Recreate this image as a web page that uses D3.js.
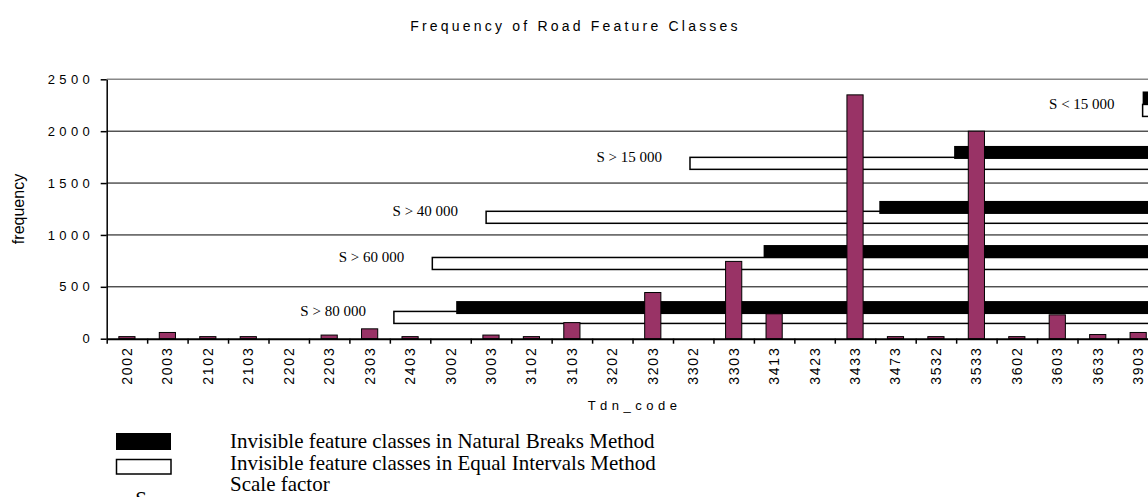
<!DOCTYPE html>
<html>
<head>
<meta charset="utf-8">
<script src="https://cdn.jsdelivr.net/npm/d3@7"></script>
<style>
  body { margin: 0; background: #fff; }
  svg { display: block; }
</style>
</head>
<body>
<svg id="chart"></svg>
<script>
// data
const codes = ["2002", "2003", "2102", "2103", "2202", "2203", "2303", "2403", "3002", "3003",
  "3102", "3103", "3202", "3203", "3302", "3303", "3413", "3423", "3433", "3473",
  "3532", "3533", "3602", "3603", "3633", "3903"];
const freq = [20, 60, 20, 20, 0, 35, 95, 20, 0, 35,
  20, 155, 0, 445, 0, 745, 240, 0, 2350, 20,
  20, 2000, 20, 230, 40, 60];
const yTicks = [0, 500, 1000, 1500, 2000, 2500];

// scale factor annotations (start in category slots, level in frequency units)
const scaleLabels = ["S > 80 000", "S > 60 000", "S > 40 000", "S > 15 000", "S < 15 000"];
const naturalStart = [8.64, 16.24, 19.10, 20.95, 25.61];
const naturalLevel = [300, 840, 1265, 1795, 2320];
const equalStart = [7.10, 8.05, 9.38, 14.42, 25.61];
const equalLevel = [205, 725, 1170, 1690, 2200];

const legendLabels = ["Invisible feature classes in Natural Breaks Method",
  "Invisible feature classes in Equal Intervals Method",
  "Scale factor"];

const width = 1148, height = 497;
const sans = "'Liberation Sans', Arial, sans-serif";
const serif = "'Liberation Serif', 'Times New Roman', serif";

const svg = d3.select("#chart").attr("width", width).attr("height", height);

const x0 = 106.7, step = 40.45;
const slot = d3.scaleLinear().domain([0, codes.length]).range([x0, x0 + codes.length * step]);
const x = d3.scaleBand().domain(codes).range(slot.range()).paddingInner(0.6).paddingOuter(0.3);
const y = d3.scaleLinear().domain([0, 2500]).range([338.7, 79.3]);

// title
svg.append("text")
    .attr("x", 575.5).attr("y", 31)
    .attr("text-anchor", "middle")
    .style("font-family", sans).style("font-size", "14px").style("letter-spacing", "3.2px")
    .text("Frequency of Road Feature Classes");

// gridlines
svg.append("g").selectAll("line")
    .data(yTicks.slice(1))
    .enter().append("line")
    .attr("x1", x0).attr("x2", width)
    .attr("y1", d => y(d)).attr("y2", d => y(d))
    .attr("stroke", d => d === 2500 ? "#888" : "#000")
    .attr("stroke-width", d => d === 2500 ? 1.6 : 1);

// equal intervals (white) bands
const bandG = svg.append("g");
bandG.selectAll(".eq")
    .data(equalStart)
    .enter().append("rect")
    .attr("class", "eq")
    .attr("x", d => slot(d))
    .attr("y", (d, i) => y(equalLevel[i]) - 6)
    .attr("width", d => width + 20 - slot(d))
    .attr("height", 12)
    .attr("fill", "#fff").attr("stroke", "#000").attr("stroke-width", 1.5);

// natural breaks (black) bands
bandG.selectAll(".nb")
    .data(naturalStart)
    .enter().append("rect")
    .attr("class", "nb")
    .attr("x", d => slot(d))
    .attr("y", (d, i) => y(naturalLevel[i]) - 6.5)
    .attr("width", d => width + 20 - slot(d))
    .attr("height", 13)
    .attr("fill", "#000");

// scale factor labels
svg.append("g").selectAll("text")
    .data(scaleLabels)
    .enter().append("text")
    .attr("x", (d, i) => slot(equalStart[i]) - 28)
    .attr("y", (d, i) => y(equalLevel[i]) - 1)
    .attr("text-anchor", "end")
    .style("font-family", serif).style("font-size", "15px")
    .text(d => d);

// bars
svg.append("g").selectAll("rect")
    .data(freq)
    .enter().append("rect")
    .attr("x", (d, i) => x(codes[i]))
    .attr("y", d => y(d))
    .attr("width", x.bandwidth())
    .attr("height", d => y(0) - y(d))
    .attr("fill", "#993366")
    .attr("stroke", "#000").attr("stroke-width", 1);

// y axis
const yAxis = svg.append("g")
    .attr("transform", "translate(" + x0 + ",0)")
    .call(d3.axisLeft(y).tickValues(yTicks).tickFormat(d3.format("d"))
      .tickSize(6).tickSizeOuter(0).tickPadding(8));
yAxis.select(".domain").attr("stroke-width", 1.5);
yAxis.selectAll(".tick line").attr("stroke-width", 1.5);
yAxis.selectAll("text")
    .attr("x", -12.5)
    .style("font-family", sans).style("font-size", "13px").style("letter-spacing", "4.4px")
    .attr("fill", "#000");

// x axis (ticks on category boundaries)
const xAxis = svg.append("g")
    .attr("transform", "translate(0," + y(0) + ")")
    .call(d3.axisBottom(slot).tickValues(d3.range(0, codes.length + 1)).tickSize(5).tickSizeOuter(0).tickFormat(""));
xAxis.select(".domain").attr("stroke-width", 2);
xAxis.selectAll(".tick line").attr("stroke-width", 1.5);

svg.append("g").selectAll("text")
    .data(codes)
    .enter().append("text")
    .attr("transform", d => "translate(" + (x(d) + x.bandwidth() / 2 + 5) + ",346.5) rotate(-90)")
    .attr("text-anchor", "end")
    .style("font-family", sans).style("font-size", "14px").style("letter-spacing", "1.8px")
    .text(d => d);

// axis titles
svg.append("text")
    .attr("x", (slot.range()[0] + slot.range()[1]) / 2 + 2).attr("y", 410)
    .attr("text-anchor", "middle")
    .style("font-family", sans).style("font-size", "13px").style("letter-spacing", "4.5px")
    .text("Tdn_code");

svg.append("text")
    .attr("transform", "translate(24,209) rotate(-90)")
    .attr("text-anchor", "middle")
    .style("font-family", sans).style("font-size", "16px")
    .text("frequency");

// legend
const legend = svg.append("g");
legend.append("rect")
    .attr("x", 116).attr("y", 433).attr("width", 55).attr("height", 17)
    .attr("fill", "#000");
legend.append("rect")
    .attr("x", 116.5).attr("y", 459.5).attr("width", 54.5).attr("height", 14.5)
    .attr("fill", "#fff").attr("stroke", "#000").attr("stroke-width", 1.5);
legend.append("text")
    .attr("x", 141).attr("y", 506)
    .attr("text-anchor", "middle")
    .style("font-family", serif).style("font-size", "21px")
    .text("S");
legend.selectAll(".lg")
    .data(legendLabels)
    .enter().append("text")
    .attr("class", "lg")
    .attr("x", 230)
    .attr("y", (d, i) => 448.3 + i * 21.2)
    .style("font-family", serif).style("font-size", "21px")
    .text(d => d);
</script>
</body>
</html>
